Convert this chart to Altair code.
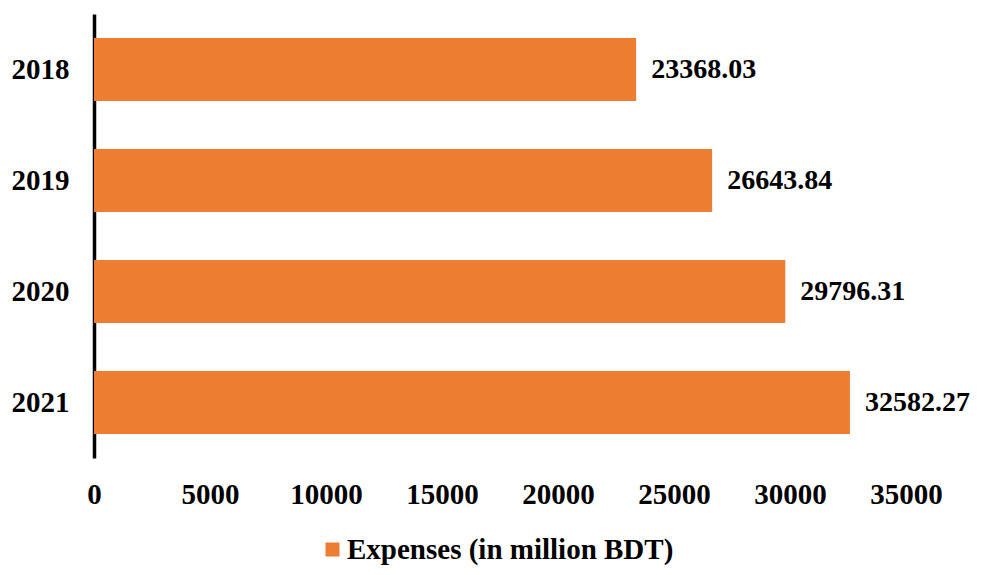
import altair as alt
import pandas as pd

years = ["2018", "2019", "2020", "2021"]
expenses = [23368.03, 26643.84, 29796.31, 32582.27]
labels = ["23368.03", "26643.84", "29796.31", "32582.27"]
series = "Expenses (in million BDT)"
x_ticks = [0, 5000, 10000, 15000, 20000, 25000, 30000, 35000]

df = pd.DataFrame({"year": years, "value": expenses, "label": labels, "series": [series] * len(years)})

FONT = "Liberation Serif"
ORANGE = "#ED7D31"
FS = 29

y_enc = alt.Y("year:N", sort=years,
              scale=alt.Scale(paddingInner=0.43, paddingOuter=0.215),
              axis=alt.Axis(title=None, domainColor="black", domainWidth=3.5, ticks=False,
                            labelFont=FONT, labelFontSize=FS, labelFontWeight="bold",
                            labelColor="black", labelPadding=25, grid=False))
x_enc = alt.X("value:Q", scale=alt.Scale(domain=[0, 35000], nice=False),
              axis=alt.Axis(title=None, values=x_ticks, domain=False, ticks=False, grid=False,
                            labelFont=FONT, labelFontSize=FS, labelFontWeight="bold",
                            labelColor="black", labelPadding=22, format="d",
                            labelFlush=False))

bars = alt.Chart(df).mark_bar(size=63).encode(
    x=x_enc, y=y_enc,
    color=alt.Color("series:N", scale=alt.Scale(range=[ORANGE]),
                    legend=alt.Legend(title=None, orient="none", legendX=224, legendY=521,
                                      symbolType="square", symbolSize=196, symbolStrokeWidth=0,
                                      labelFont=FONT, labelFontSize=FS, labelFontWeight="bold",
                                      labelColor="black", labelLimit=600, labelOffset=0))
)

text = alt.Chart(df).mark_text(align="left", baseline="middle", dx=15, font=FONT,
                               fontSize=28, fontWeight="bold", color="black").encode(
    x="value:Q", y=alt.Y("year:N", sort=years), text="label:N"
)

chart = alt.layer(bars, text).properties(
    width=812, height=444,
    autosize=alt.AutoSizeParams(type="none"),
    padding={"left": 86, "top": 6, "right": 68, "bottom": 109},
).configure_view(stroke=None)

chart.save("out.html", embed_options={"renderer": "svg", "actions": False})
